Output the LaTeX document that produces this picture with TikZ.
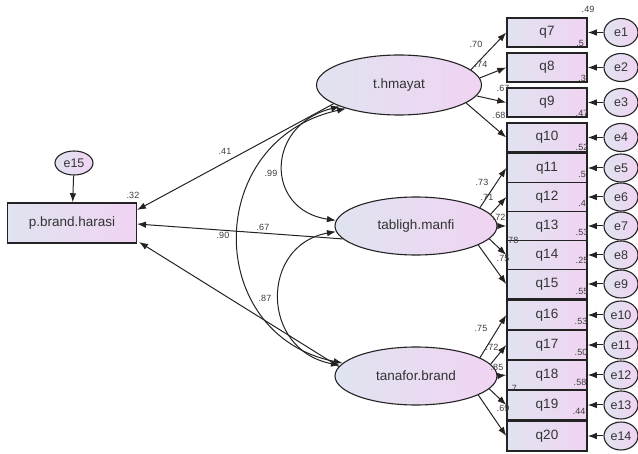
\documentclass[tikz,border=0pt]{standalone}
\usepackage{fontspec}
\setmainfont{Liberation Sans}
\usetikzlibrary{shapes.geometric,arrows.meta}
\definecolor{lineC}{RGB}{35,35,35}
\definecolor{fillL}{RGB}{224,227,240}
\definecolor{fillR}{RGB}{240,212,242}
\definecolor{labC}{RGB}{60,60,60}
\begin{document}
\begin{tikzpicture}[x=1pt,y=-1pt,
 obs/.style={rectangle,draw=lineC,line width=1.5pt,minimum width=80pt,minimum height=29pt,left color=fillL,right color=fillR,inner sep=0pt,font=\fontsize{13.5}{15}\selectfont,text=black!80},
 lat/.style={ellipse,draw=lineC,line width=1.1pt,minimum width=162pt,minimum height=58pt,left color=fillL,right color=fillR,inner sep=0pt,font=\fontsize{13.5}{15}\selectfont,text=black!80},
 err/.style={ellipse,draw=lineC,line width=1.1pt,minimum width=34pt,minimum height=28pt,left color=fillL,right color=fillR,inner sep=0pt,font=\fontsize{12.5}{14}\selectfont,text=black!80},
 lab/.style={inner sep=0pt,font=\fontsize{9}{10}\selectfont,text=labC},
 arr/.style={-{Latex[length=9pt,width=6.5pt]},line width=1pt,draw=lineC},
 cov/.style={{Latex[length=9pt,width=6.5pt]}-{Latex[length=9pt,width=6.5pt]},line width=1pt,draw=lineC}]
\useasboundingbox (0,0) rectangle (638,454);

% left observed
\node[obs,minimum width=129pt,minimum height=40pt] (pb) at (72,223) {p.brand.harasi};
\node[err,minimum width=38pt,minimum height=24pt] (e15) at (74,163) {e15};
\draw[arr] (e15) -- (pb);

% latent variables
\node[lat,minimum width=165pt,minimum height=60pt] (th) at (399,85) {t.hmayat};
\node[lat] (tm) at (416,226) {tabligh.manfi};
\node[lat] (tf) at (416,376) {tanafor.brand};

% observed items
\node[obs] (q7) at (547,32.5) {q7};
\node[obs] (q8) at (547,67.5) {q8};
\node[obs] (q9) at (547,102.5) {q9};
\node[obs] (q10) at (547,137.5) {q10};
\node[obs] (q11) at (547,168) {q11};
\node[obs] (q12) at (547,197) {q12};
\node[obs] (q13) at (547,226) {q13};
\node[obs] (q14) at (547,255) {q14};
\node[obs] (q15) at (547,284) {q15};
\node[obs,minimum height=30pt] (q16) at (547,315) {q16};
\node[obs,minimum height=30pt] (q17) at (547,345) {q17};
\node[obs,minimum height=30pt] (q18) at (547,375) {q18};
\node[obs,minimum height=30pt] (q19) at (547,405) {q19};
\node[obs,minimum height=30pt] (q20) at (547,436) {q20};

% errors
\foreach \e/\q/\y in {e1/q7/32.5,e2/q8/67.5,e3/q9/102.5,e4/q10/137.5,e5/q11/168,e6/q12/197,e7/q13/226,e8/q14/255,e9/q15/284,e10/q16/315,e11/q17/345,e12/q18/375,e13/q19/405,e14/q20/436}{
  \node[err] (\e) at (621,\y) {\e};
  \draw[arr] (\e) -- (\q);
}

% loadings
\draw[arr] (th.12) -- (q7.west);
\draw[arr] (th.5) -- (q8.west);
\draw[arr] (th.-8) -- (q9.west);
\draw[arr] (th.-15) -- (q10.west);
\draw[arr] (tm.16) -- (q11.west);
\draw[arr] (tm.9) -- (q12.west);
\draw[arr] (tm.0) -- (q13.west);
\draw[arr] (tm.-10) -- (q14.west);
\draw[arr] (tm.-17) -- (q15.west);
\draw[arr] (tf.16) -- (q16.west);
\draw[arr] (tf.9) -- (q17.west);
\draw[arr] (tf.0) -- (q18.west);
\draw[arr] (tf.-10) -- (q19.west);
\draw[arr] (tf.-17) -- (q20.west);

% regressions
\coordinate (pbA) at (137,210);
\coordinate (pbB) at (137,224);
\coordinate (pbC) at (139,242);
\draw[arr] (th.196) -- (pbA);
\draw[arr] (tm.190) -- (pbB);
\draw[arr] (tf.173) -- (pbC);

% covariances
\draw[cov] (th.200) .. controls (265,125) and (265,210) .. (tm.176);
\draw[cov] (tm.184) .. controls (260,245) and (260,350) .. (tf.172);
\draw[cov] (th.204) .. controls (203,140) and (203,335) .. (tf.170);

% labels
\node[lab] (r2) at (133,195) {.32};
\node[lab] (c1) at (225,151) {.41};
\node[lab] (c2) at (271,173) {.99};
\node[lab] (c3) at (263,227) {.67};
\node[lab] (c4) at (223,235) {.90};
\node[lab] (c5) at (265,298) {.87};
\node[lab] (v0) at (588,9) {.49};

\node[lab] (l7) at (476,44) {.70};
\node[lab] (l8) at (481,64) {.74};
\node[lab] (l9) at (503,88) {.67};
\node[lab] (l10) at (499,115) {.68};
\node[lab] (l11) at (482,182) {.73};
\node[lab] (l12) at (487,197) {.71};
\node[lab] (l13) at (499,217) {.72};
\node[lab] (l14) at (512,240) {.78};
\node[lab] (l15) at (503,258) {.75};
\node[lab] (l16) at (481,328) {.75};
\node[lab] (l17) at (492,347) {.72};
\node[lab] (l18) at (497,367) {.85};
\node[lab] (l19) at (513,388) {.7};
\node[lab] (l20) at (503,408) {.69};

\node[lab] (w7) at (580,43) {.5};
\node[lab] (w8) at (582,78) {.3};
\node[lab] (w9) at (582,113) {.47};
\node[lab] (w10) at (582,147) {.52};
\node[lab] (w11) at (582,174) {.5};
\node[lab] (w12) at (582,203) {.4};
\node[lab] (w13) at (582,232) {.53};
\node[lab] (w14) at (582,260) {.25};
\node[lab] (w15) at (582,291) {.55};
\node[lab] (w16) at (581,321) {.53};
\node[lab] (w17) at (581,352) {.50};
\node[lab] (w18) at (580,382) {.58};
\node[lab] (w19) at (579,411) {.44};
\end{tikzpicture}
\end{document}
